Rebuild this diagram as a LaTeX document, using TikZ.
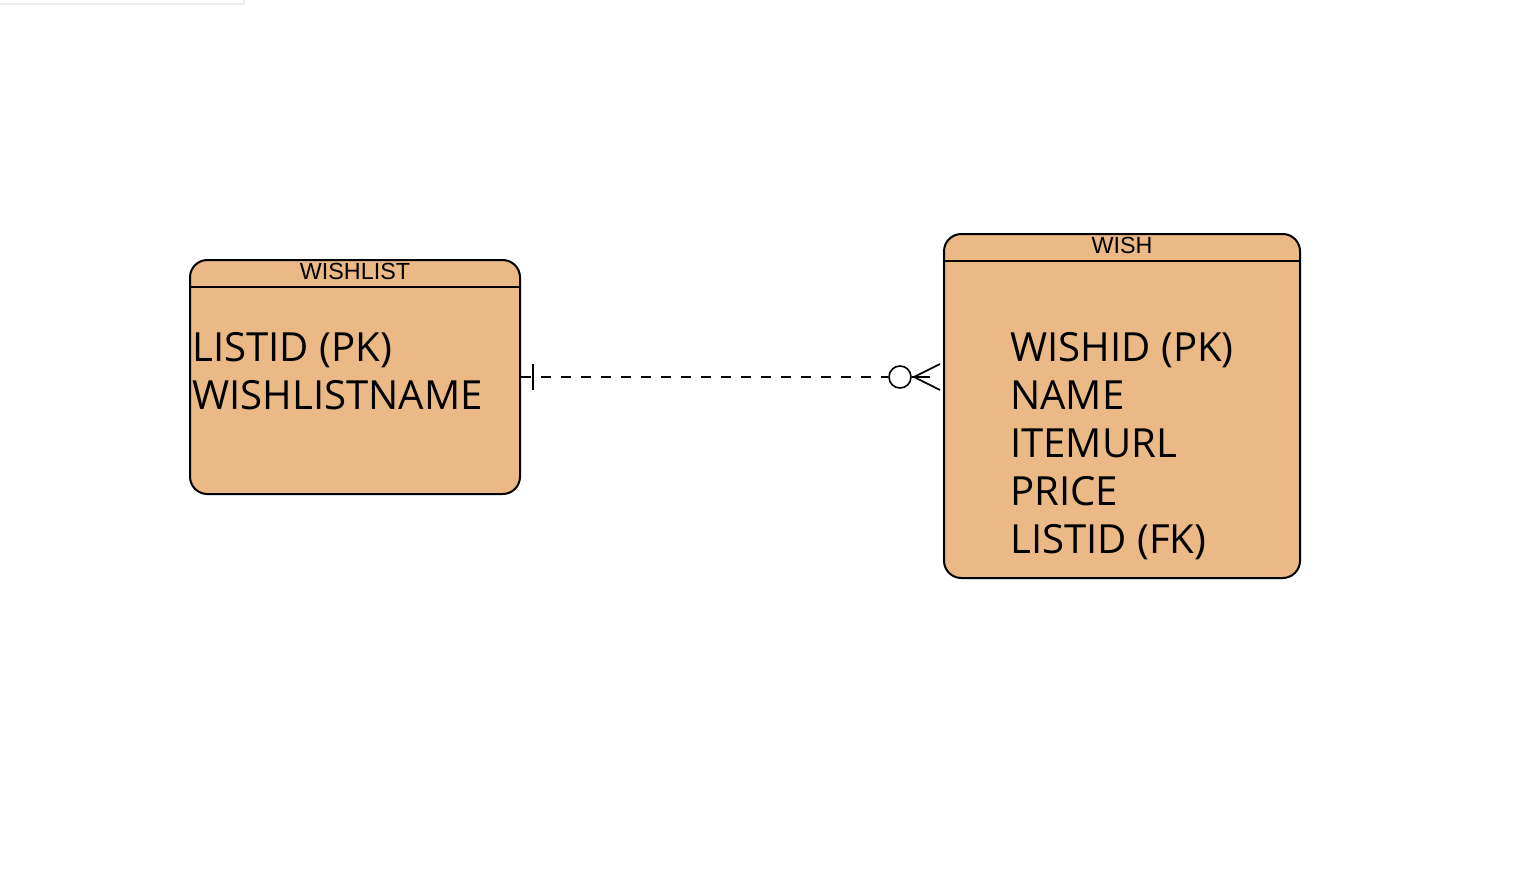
\documentclass[tikz,border=0pt]{standalone}
\usepackage{fontspec}
\usepackage{tikz}
\usetikzlibrary{calc}
\newfontfamily\hdrfont{Liberation Sans}
\newfontfamily\bodyfont{Open Sans}
\definecolor{entfill}{RGB}{234,185,134}

\begin{document}
\begin{tikzpicture}[x=0.75pt,y=-0.75pt,
  entity/.style={draw, fill=entfill, line width=1.5pt, rounded corners=13pt,
    anchor=north west, inner sep=0pt},
  title/.style={font={\fontsize{17.5}{20}\selectfont\hdrfont}, inner sep=0pt},
  attrs/.style={font={\fontsize{30.1}{36}\selectfont\bodyfont}, align=left,
    anchor=north west, inner sep=0pt},
  rel/.style={line width=1.2pt}]
\useasboundingbox (0,0) rectangle (1516,876);
\draw[black!7, line width=1.2pt] (0,4) -- (244,4) -- (244,0);
\node[entity, minimum width=247.5pt, minimum height=175.5pt] (WL) at (189,259) {};
\node[entity, minimum width=267pt, minimum height=258pt] (W) at (943,233) {};
\draw[line width=1.5pt] ([yshift=-21pt]WL.north west) -- ([yshift=-21pt]WL.north east);
\draw[line width=1.5pt] ([yshift=-21pt]W.north west) -- ([yshift=-21pt]W.north east);
\node[title] (WLt) at ([yshift=-9.5pt]WL.north) {WISHLIST};
\node[title] (Wt) at ([yshift=-9.5pt]W.north) {WISH};
\node[attrs] (WLa) at (192,332) {LISTID (PK)\\WISHLISTNAME};
\node[attrs] (Wa) at (1010,332) {WISHID (PK)\\NAME\\ITEMURL\\PRICE\\LISTID (FK)};
\coordinate (A) at (WL.east);
\coordinate (B) at (W.west |- A);
\node[draw, circle, line width=1.2pt, fill=white, minimum size=16.5pt, inner sep=0pt] (Z) at ($(B)+(-43,0)$) {};
\draw[rel, dash pattern=on 7.5pt off 7.5pt] (A) -- (Z);
\draw[rel] ($(A)+(12,-13)$) -- ($(A)+(12,13)$);
\draw[rel] (Z.east) -- ($(B)+(-13,0)$);
\draw[rel] ($(B)+(-29,0)$) -- ($(B)+(-3,-13)$);
\draw[rel] ($(B)+(-29,0)$) -- ($(B)+(-3,13)$);
\end{tikzpicture}
\end{document}
